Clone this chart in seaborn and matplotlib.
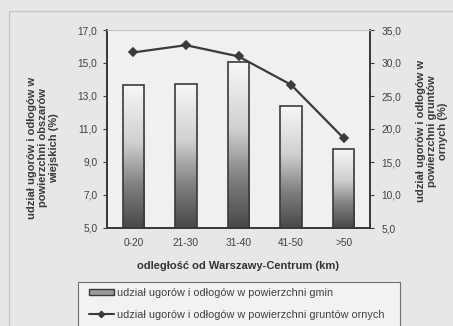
import numpy as np
import matplotlib
matplotlib.use("Agg")
import matplotlib.pyplot as plt
from matplotlib.colors import LinearSegmentedColormap
from matplotlib.patches import Rectangle, Patch
from matplotlib.lines import Line2D
import seaborn as sns

# Distance bands from Warszawa-Centrum
categories = ["0-20", "21-30", "31-40", "41-50", ">50"]
# share of fallow/idle land in municipal area (%), left axis
share_gmin = [13.65, 13.75, 15.05, 12.4, 9.8]
# share of fallow/idle land in arable land (%), right axis
share_orne = [31.6, 32.7, 31.0, 26.7, 18.6]

left_ticks = [5, 7, 9, 11, 13, 15, 17]
right_ticks = [5, 10, 15, 20, 25, 30, 35]

label_gmin = "udział ugorów i odłogów w powierzchni gmin"
label_orne = "udział ugorów i odłogów w powierzchni gruntów ornych"
xlabel = "odległość od Warszawy-Centrum (km)"
ylabel_left = "udział ugorów i odłogów w\npowierzchni obszarów\nwiejskich (%)"
ylabel_right = "udział ugorów i odłogów w\npowierzchni gruntów\nornych (%)"

sns.set_theme(style="white")
plt.rcParams["font.family"] = ["Liberation Sans", "DejaVu Sans"]

W, H = 453, 326
fig = plt.figure(figsize=(W / 100, H / 100), dpi=100, facecolor="#e7e7e7")
fig.patch.set_linewidth(0)

def fx(px):
    return px / W

def fy(py):
    return 1 - py / H

# outer chart frame (its right and bottom edges run past the canvas)
fig.add_artist(Rectangle((fx(9), -0.2), 1.3, fy(11) + 0.2, transform=fig.transFigure,
                         facecolor="none", edgecolor="#c4c4c4", lw=0.9))

ax = fig.add_axes([fx(107), fy(228), fx(370) - fx(107), fy(30) - fy(228)])
ax.set_facecolor("#f0f0f0")

ink = "#3a3a3a"
sns.barplot(x=categories, y=share_gmin, ax=ax, width=0.41, color="white",
            edgecolor=ink, linewidth=1.2, zorder=2)
ax.set_ylim(5, 17)
ax.set_xlim(-0.5, len(categories) - 0.5)

# vertical grey gradient inside each bar
grad_cmap = LinearSegmentedColormap.from_list(
    "bar_grad", [(0.0, "#484848"), (0.3, "#808080"), (0.6, "#d0d0d0"), (1.0, "#f7f7f7")])
grad = np.linspace(0, 1, 256).reshape(-1, 1)
for p in list(ax.patches):
    x0, w, h = p.get_x(), p.get_width(), p.get_height()
    p.set_facecolor("none")
    im = ax.imshow(grad, extent=[x0, x0 + w, 5, h], origin="lower", aspect="auto",
                   cmap=grad_cmap, zorder=1.9, interpolation="bilinear")
    im.set_clip_path(p)
ax.set_ylim(5, 17)
ax.set_xlim(-0.5, len(categories) - 0.5)
ax.set_aspect("auto")

ax2 = ax.twinx()
sns.pointplot(x=categories, y=share_orne, ax=ax2, color=ink, markers="D",
              markersize=3.6, linewidth=1.6)
ax2.set_ylim(5, 35)
ax2.set_xlim(-0.5, len(categories) - 0.5)

# ticks and labels
tick_kw = dict(fontsize=7.3, color="#404040")
ax.set_yticks(left_ticks)
ax.set_yticklabels([f"{v:.1f}".replace(".", ",") for v in left_ticks], **tick_kw)
ax2.set_yticks(right_ticks)
ax2.set_yticklabels([f"{v:.1f}".replace(".", ",") for v in right_ticks], **tick_kw)
ax.set_xticks(range(len(categories)))
ax.set_xticklabels(categories, **tick_kw)
ax.set_xticks([i + 0.5 for i in range(len(categories) - 1)], minor=True)
ax.tick_params(axis="x", which="major", length=0, pad=7)
ax.tick_params(axis="x", which="minor", length=3, width=0.8, color=ink, direction="out")
ax.tick_params(axis="y", length=3, width=0.8, color=ink, direction="out", pad=4, left=True)
ax2.tick_params(axis="y", length=3, width=0.8, color=ink, direction="out", pad=5, right=True)
ax.set_xlabel("")
ax.set_ylabel("")
ax2.set_xlabel("")
ax2.set_ylabel("")

for a in (ax, ax2):
    for side in ("left", "right", "bottom"):
        a.spines[side].set_color(ink)
        a.spines[side].set_linewidth(1.3)
        a.spines[side].set_visible(True)
    a.spines["top"].set_color("#c8c8c8")
    a.spines["top"].set_linewidth(0.8)
ax2.patch.set_visible(False)

# axis titles
fig.text(fx(238), fy(266), xlabel, ha="center", va="center", fontsize=8,
         fontweight="bold", color="#333333")
fig.text(fx(43), fy(148), ylabel_left, ha="center", va="center", rotation=90,
         fontsize=8, fontweight="bold", color="#3a3a3a", linespacing=1.1,
         multialignment="center")
fig.text(fx(432), fy(131), ylabel_right, ha="center", va="center", rotation=90,
         fontsize=8, fontweight="bold", color="#3a3a3a", linespacing=1.1,
         multialignment="center")

# legend box
fig.add_artist(Rectangle((fx(78), -0.05), fx(400) - fx(78), fy(282) + 0.05,
                         transform=fig.transFigure, facecolor="#f2f2f2",
                         edgecolor="#707070", lw=0.8))
handles = [
    Patch(facecolor="#9a9a9a", edgecolor=ink, linewidth=1.0),
    Line2D([], [], color=ink, lw=1.5, marker="D", markersize=3.2),
]
fig.legend(handles, [label_gmin, label_orne], loc="center left",
           bbox_to_anchor=(fx(89), fy(304)), frameon=False, fontsize=7.8,
           handlelength=2.3, handleheight=0.5, handletextpad=0.3,
           labelspacing=1.1, borderpad=0, borderaxespad=0,
           labelcolor="#404040")

fig.savefig("out.png", dpi=100, facecolor=fig.get_facecolor())
